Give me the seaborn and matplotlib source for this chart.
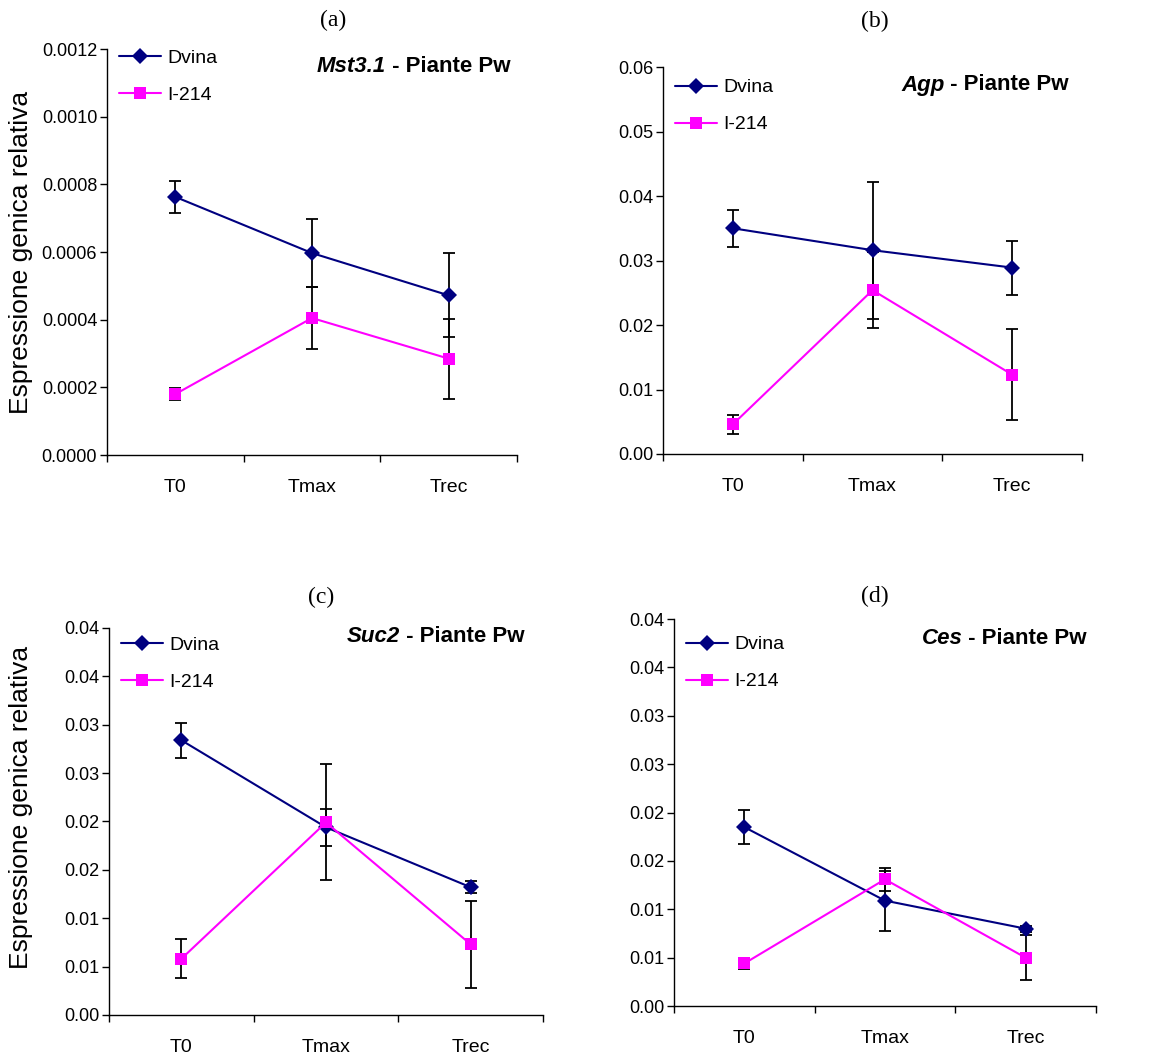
import math
import pandas as pd
import seaborn as sns
import matplotlib.pyplot as plt
from matplotlib.ticker import MultipleLocator, FuncFormatter, FixedLocator

sns.set_style("ticks")
plt.rcParams['font.family'] = ['Liberation Sans', 'DejaVu Sans']
plt.rcParams.update({"text.color": "black", "axes.labelcolor": "black",
                     "xtick.color": "black", "ytick.color": "black"})

# dati
tempi = ["T0", "Tmax", "Trec"]
varieta = ["Dvina", "I-214"]

mst_dvina = [0.000763, 0.000597, 0.000472]
mst_dvina_err = [0.000047, 0.000100, 0.000124]
mst_i214 = [0.000180, 0.000405, 0.000285]
mst_i214_err = [0.000018, 0.000092, 0.000118]

agp_dvina = [0.0350, 0.0316, 0.0289]
agp_dvina_err = [0.0029, 0.0106, 0.0042]
agp_i214 = [0.0046, 0.0254, 0.0123]
agp_i214_err = [0.0015, 0.0059, 0.0071]

suc_dvina = [0.0284, 0.0194, 0.0132]
suc_dvina_err = [0.0018, 0.0019, 0.0006]
suc_i214 = [0.0058, 0.0199, 0.0073]
suc_i214_err = [0.0020, 0.0060, 0.0045]

ces_dvina = [0.0185, 0.0109, 0.0080]
ces_dvina_err = [0.0018, 0.0031, 0.0003]
ces_i214 = [0.0044, 0.0131, 0.0050]
ces_i214_err = [0.0006, 0.0012, 0.0023]

pannelli = [
    ("(a)", "Mst3.1", mst_dvina, mst_dvina_err, mst_i214, mst_i214_err, 0.0012, 0.0002, 4),
    ("(b)", "Agp", agp_dvina, agp_dvina_err, agp_i214, agp_i214_err, 0.06, 0.01, 2),
    ("(c)", "Suc2", suc_dvina, suc_dvina_err, suc_i214, suc_i214_err, 0.04, 0.005, 2),
    ("(d)", "Ces", ces_dvina, ces_dvina_err, ces_i214, ces_i214_err, 0.04, 0.005, 2),
]

W, H = 1164, 1059
posizioni = [
    [0.0919, 0.5703, 0.3522, 0.3834],
    [0.5696, 0.5713, 0.3600, 0.3654],
    [0.0936, 0.0416, 0.3729, 0.3654],
    [0.5790, 0.0500, 0.3625, 0.3654],
]
pos_lettere = [(333, 20), (875, 21), (321, 597), (875, 596)]
pos_titoli = [(510, 66), (1069, 85), (524, 637), (1087, 638)]
legenda_y = [1.028, 1.0, 1.008, 0.987]

colori = {"Dvina": "#000080", "I-214": "#FF00FF"}
marcatori = {"Dvina": "D", "I-214": "s"}

fig = plt.figure(figsize=(W / 100, H / 100), dpi=100)


def fmt_half_up(dec):
    # arrotondamento come Excel (0.015 -> 0.02)
    def f(v, pos):
        r = math.floor(v * 10 ** dec + 0.5 + 1e-9) / 10 ** dec
        return f"{r:.{dec}f}"
    return f


for i, (lett, gene, dv, dv_e, ib, ib_e, ymax, passo, dec) in enumerate(pannelli):
    ax = fig.add_axes(posizioni[i])
    df = pd.DataFrame({
        "tempo": tempi * 2,
        "valore": dv + ib,
        "errore": dv_e + ib_e,
        "varieta": ["Dvina"] * 3 + ["I-214"] * 3,
    })
    df["x"] = df["tempo"].map({t: k for k, t in enumerate(tempi)})
    sns.lineplot(data=df, x="x", y="valore", hue="varieta", style="varieta",
                 palette=colori, markers=marcatori, dashes=False, markersize=8,
                 markeredgewidth=0, linewidth=1.5, ax=ax, legend=True, zorder=3)
    for v in varieta:
        sub = df[df["varieta"] == v]
        ax.errorbar(sub["x"], sub["valore"], yerr=sub["errore"], fmt="none",
                    ecolor="black", elinewidth=1.3, capsize=4, capthick=1.3, zorder=2)

    ax.set_xlim(-0.5, 2.5)
    ax.set_ylim(0, ymax)
    ax.yaxis.set_major_locator(MultipleLocator(passo))
    ax.yaxis.set_major_formatter(FuncFormatter(fmt_half_up(dec)))
    ax.xaxis.set_major_locator(FixedLocator([0, 1, 2]))
    ax.set_xticklabels(tempi)
    ax.xaxis.set_minor_locator(FixedLocator([-0.5, 0.5, 1.5, 2.5]))
    ax.tick_params(axis="x", which="major", length=0, pad=17, labelsize=14)
    ax.tick_params(axis="x", which="minor", length=5, width=1, direction="out")
    ax.tick_params(axis="y", length=5, width=1, direction="out", labelsize=13, pad=2)
    ax.set_xlabel("")
    ax.set_ylabel("")
    for s in ["top", "right"]:
        ax.spines[s].set_visible(False)
    for s in ["left", "bottom"]:
        ax.spines[s].set_linewidth(1)
        ax.spines[s].set_color("black")

    ax.legend(loc="upper left", bbox_to_anchor=(0, legenda_y[i]), frameon=False,
              fontsize=14, handlelength=2.2, labelspacing=1.0, borderaxespad=0.2,
              handletextpad=0.3)

    # titolo con nome del gene in corsivo
    tx, ty = pos_titoli[i]
    ann = fig.text(tx / W, 1 - ty / H, " - Piante Pw", ha="right", va="center",
                   fontsize=16, fontweight="bold")
    ax.annotate(gene, xy=(0, 0.5), xycoords=ann, ha="right", va="center",
                fontsize=16, fontweight="bold", fontstyle="italic")

    fig.text(pos_lettere[i][0] / W, 1 - pos_lettere[i][1] / H, lett,
             ha="center", va="center", fontsize=17, family="Liberation Serif")

fig.text(21 / W, 1 - 252 / H, "Espressione genica relativa", rotation=90,
         ha="center", va="center", fontsize=19)
fig.text(21 / W, 1 - 807 / H, "Espressione genica relativa", rotation=90,
         ha="center", va="center", fontsize=19)

fig.savefig("out.png", dpi=100, facecolor="white")
